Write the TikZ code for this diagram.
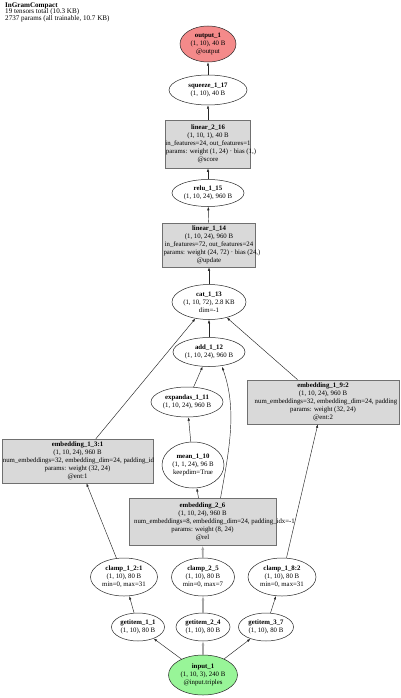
\documentclass[tikz,border=0pt]{standalone}
\usepackage{fontspec}
\setmainfont{Liberation Serif}
\usetikzlibrary{shapes.geometric,arrows.meta}
\definecolor{boxfill}{HTML}{D9D9D9}
\definecolor{boxline}{HTML}{707070}
\definecolor{hotgray}{HTML}{A8A8A8}
\definecolor{outred}{HTML}{F48A8A}
\definecolor{ingreen}{HTML}{98F598}
\newcommand{\ov}[2]{\makebox[0pt]{\hspace{#1}#2}}
\begin{document}
\begin{tikzpicture}[x=1pt,y=-1pt,
  every node/.style={font=\fontsize{6.8}{8.1}\selectfont, align=center, inner sep=0pt},
  ell/.style={ellipse, draw=black!85, line width=0.5pt, fill=white},
  box/.style={rectangle, draw=boxline, line width=0.6pt, fill=boxfill},
  edge/.style={-{Latex[length=3.5pt,width=2.4pt]}, line width=0.45pt, draw=black!85},
  hot/.style={-{Latex[length=4pt,width=3pt]}, line width=1.6pt, draw=hotgray},
]
\useasboundingbox (0,0) rectangle (400,698);
\fill[white] (0,0) rectangle (400,698);

\node[anchor=north west, align=left, font=\fontsize{7.1}{6.8}\selectfont] (title) at (5,2.3)
  {\textbf{InGramCompact}\\19 tensors total (10.3 KB)\\2737 params (all trainable, 10.7 KB)};

\node[ell, fill=outred, minimum width=56, minimum height=36] (out) at (208,44)
  {\textbf{output\_1}\\(1, 10), 40 B\\@output};
\node[ell, minimum width=78, minimum height=30] (sq) at (208,90)
  {\textbf{squeeze\_1\_17}\\(1, 10), 40 B};
\node[box, minimum width=82, minimum height=48] (l2) at (208,144)
  {\textbf{linear\_2\_16}\\(1, 10, 1), 40 B\\in\_features=24, out\_features=1\\\ov{6pt}{params: weight (1, 24) · bias (1,)}\\@score};
\node[ell, minimum width=72, minimum height=27] (relu) at (208,193)
  {\textbf{relu\_1\_15}\\(1, 10, 24), 960 B};
\node[box, minimum width=93, minimum height=44] (l1) at (209,245)
  {\textbf{linear\_1\_14}\\(1, 10, 24), 960 B\\in\_features=72, out\_features=24\\\ov{6pt}{params: weight (24, 72) · bias (24,)}\\@update};
\node[ell, minimum width=74, minimum height=35] (cat) at (209,302)
  {\textbf{cat\_1\_13}\\(1, 10, 72), 2.8 KB\\dim=-1};
\node[ell, minimum width=72, minimum height=29] (add) at (209,352)
  {\textbf{add\_1\_12}\\(1, 10, 24), 960 B};
\node[ell, minimum width=72, minimum height=30] (exp) at (187,402)
  {\textbf{expandas\_1\_11}\\(1, 10, 24), 960 B};
\node[ell, minimum width=62, minimum height=46] (mean) at (193,465)
  {\textbf{mean\_1\_10}\\(1, 1, 24), 96 B\\keepdim=True};
\node[box, minimum width=152, minimum height=44] (e92) at (323,402)
  {\textbf{embedding\_1\_9:2}\\(1, 10, 24), 960 B\\\ov{6pt}{num\_embeddings=32, embedding\_dim=24, padding}\\params: weight (32, 24)\\@ent:2};
\node[box, minimum width=151, minimum height=44] (e31) at (77.5,461)
  {\textbf{embedding\_1\_3:1}\\(1, 10, 24), 960 B\\\ov{2pt}{num\_embeddings=32, embedding\_dim=24, padding\_id}\\params: weight (32, 24)\\@ent:1};
\node[box, minimum width=147, minimum height=47] (e26) at (202.5,522)
  {\textbf{embedding\_2\_6}\\(1, 10, 24), 960 B\\\ov{24pt}{num\_embeddings=8, embedding\_dim=24, padding\_idx=-1}\\params: weight (8, 24)\\@rel};
\node[ell, minimum width=67, minimum height=38] (c12) at (124,577)
  {\textbf{clamp\_1\_2:1}\\(1, 10), 80 B\\min=0, max=31};
\node[ell, minimum width=63, minimum height=38] (c25) at (203,577)
  {\textbf{clamp\_2\_5}\\(1, 10), 80 B\\min=0, max=7};
\node[ell, minimum width=68, minimum height=38] (c18) at (282,577)
  {\textbf{clamp\_1\_8:2}\\(1, 10), 80 B\\min=0, max=31};
\node[ell, minimum width=53, minimum height=28] (g11) at (138,627)
  {\textbf{getitem\_1\_1}\\(1, 10), 80 B};
\node[ell, minimum width=54, minimum height=28] (g24) at (203,627)
  {\textbf{getitem\_2\_4}\\(1, 10), 80 B};
\node[ell, minimum width=55, minimum height=28] (g37) at (266,627)
  {\textbf{getitem\_3\_7}\\(1, 10), 80 B};
\node[ell, fill=ingreen, minimum width=69, minimum height=40] (in) at (203,675)
  {\textbf{input\_1}\\(1, 10, 3), 240 B\\@input.triples};

\draw[edge] (in) -- (g11);
\draw[hot] (in) -- (g24);
\draw[edge] (in) -- (g37);
\draw[edge] (g11) -- (c12);
\draw[hot] (g24) -- (c25);
\draw[edge] (g37) -- (c18);
\draw[edge] (c12) -- (e31);
\draw[hot] (c25) -- (e26);
\draw[edge] (c18) -- (e92);
\draw[edge] (e26) -- (mean);
\draw[edge] ([xshift=18]e26.north) to[out=80,in=-70,looseness=0.9] ([xshift=13]add.south);
\draw[edge] (mean) -- (exp);
\draw[edge] (exp) -- (add);
\draw[edge] (add) -- (cat);
\draw[edge] (e31) -- (cat);
\draw[edge] (e92) -- (cat);
\draw[edge] (cat) -- (l1);
\draw[edge] (l1) -- (relu);
\draw[edge] (relu) -- (l2);
\draw[edge] (l2) -- (sq);
\draw[edge] (sq) -- (out);
\end{tikzpicture}
\end{document}
